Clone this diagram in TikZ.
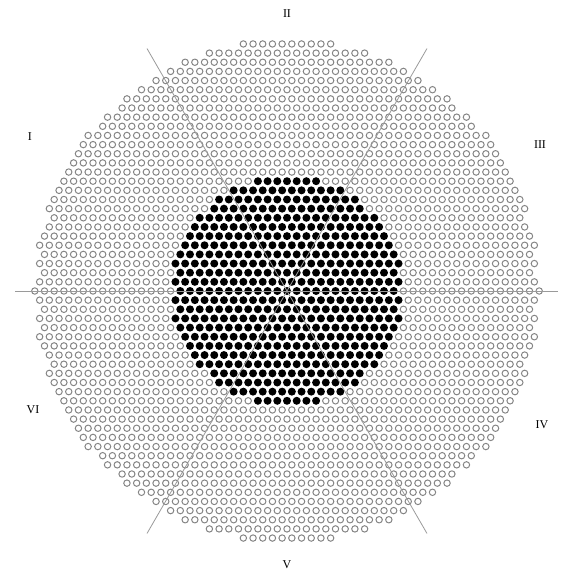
\documentclass[tikz,border=0pt]{standalone}
\usepackage{fontspec}
\setmainfont{Liberation Serif}
\usepackage{tikz}
\definecolor{ring}{HTML}{858585}
\definecolor{rule}{HTML}{9A9A9A}
\tikzset{
  opendot/.style={draw=ring, line width=1pt},
  fulldot/.style={fill=black},
  sector/.style={draw=rule, line width=0.8pt},
  numeral/.style={font=\fontsize{12}{14}\selectfont, inner sep=1pt}
}

\begin{document}
\begin{tikzpicture}[x=10pt,y=10pt]
  \useasboundingbox (-28.7,-28.3) rectangle (27.6,29.1);
  % fibre lattice
  \foreach \j in {-27,...,27}{
    \pgfmathsetmacro{\sh}{mod(abs(\j),2)*0.5}
    \foreach \i in {-27,...,27}{
      \pgfmathsetmacro{\px}{(\i+\sh)*0.97}
      \pgfmathsetmacro{\py}{\j*0.915}
      \pgfmathsetmacro{\rr}{sqrt(\px*\px+\py*\py)}
      \ifdim\rr pt<11.6pt
        \fill[fulldot] (\px,\py) circle (0.4);
      \else\ifdim\rr pt<25.25pt
        \draw[opendot] (\px,\py) circle (0.32);
      \fi\fi
    }
  }
  % sector lines
  \coordinate (c) at (0,0);
  \foreach \a/\l in {0/27.1,60/28,120/28,180/27.2,240/28,300/28}
    \draw[sector] (c) -- (\a:\l);
  % sector names
  \node[numeral] (s1) at (-25.7,15.4) {I};
  \node[numeral] (s2) at (0,27.7) {II};
  \node[numeral] (s3) at (25.3,14.6) {III};
  \node[numeral] (s4) at (25.5,-13.4) {IV};
  \node[numeral] (s5) at (0,-27.4) {V};
  \node[numeral] (s6) at (-25.4,-11.9) {VI};
\end{tikzpicture}
\end{document}
